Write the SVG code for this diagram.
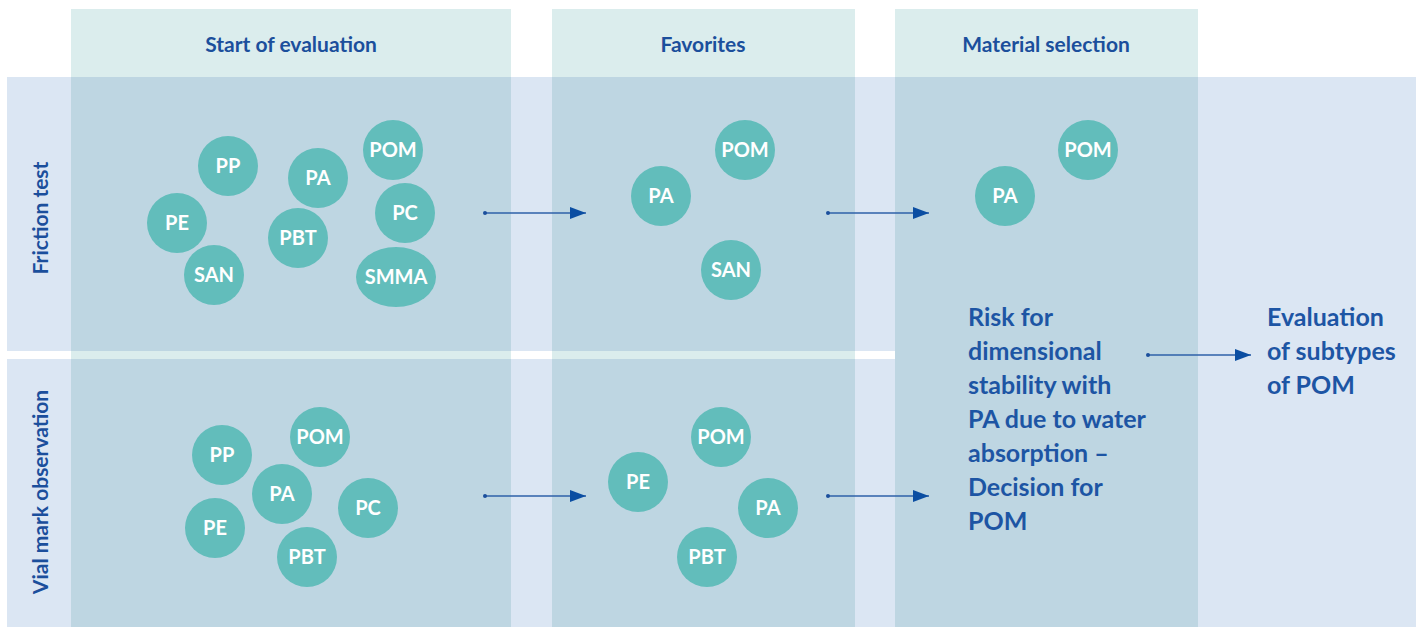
<svg xmlns="http://www.w3.org/2000/svg" width="1416" height="627" viewBox="0 0 1416 627">
<style>
.lb{fill:#dbe6f3}
.dk{fill:#bed6e2}
.hd{fill:#dbeded}
.c{fill:#62bdbb}
.ct{font-family:Lato,"Open Sans",sans-serif;font-weight:bold;font-size:20px;fill:#ffffff;text-anchor:middle}
.ht{font-family:Lato,"Open Sans",sans-serif;font-weight:bold;font-size:21px;fill:#1b4f9c;text-anchor:middle}
.rt{font-family:Lato,"Open Sans",sans-serif;font-weight:bold;font-size:21px;fill:#1b4f9c;text-anchor:middle}
.bt{font-family:Lato,"Open Sans",sans-serif;font-weight:bold;font-size:25px;fill:#1d55a4}
.ln{stroke:#2e60a8;stroke-width:1.5;fill:none;marker-end:url(#ah)}
.dot{fill:#1b4f9c}
</style>
<defs>
<marker id="ah" markerWidth="16" markerHeight="12" refX="16" refY="6" orient="auto" markerUnits="userSpaceOnUse">
<path d="M0,0 L16,6 L0,12 Z" fill="#0b4ea2"/>
</marker>
</defs>
<g id="background">
<rect class="lb" x="7" y="77" width="1409" height="274"/>
<rect class="lb" x="7" y="359" width="1409" height="268"/>
<rect class="lb" x="895" y="351" width="521" height="8"/>
<rect class="hd" x="71" y="9" width="440" height="68"/>
<rect class="dk" x="71" y="77" width="440" height="274"/>
<rect class="hd" x="71" y="351" width="440" height="8"/>
<rect class="dk" x="71" y="359" width="440" height="268"/>
<rect class="hd" x="552" y="9" width="303" height="68"/>
<rect class="dk" x="552" y="77" width="303" height="274"/>
<rect class="hd" x="552" y="351" width="303" height="8"/>
<rect class="dk" x="552" y="359" width="303" height="268"/>
<rect class="hd" x="895" y="9" width="303" height="68"/>
<rect class="dk" x="895" y="77" width="303" height="550"/>
</g>
<g id="headers">
<text class="ht" x="291" y="52">Start of evaluation</text>
<text class="ht" x="703" y="52">Favorites</text>
<text class="ht" x="1046" y="52">Material selection</text>
</g>
<g id="row-labels">
<text class="rt" transform="translate(48,218) rotate(-90)">Friction test</text>
<text class="rt" transform="translate(48,492) rotate(-90)">Vial mark observation</text>
</g>
<g id="start-friction">
<g id="sf-pp"><circle class="c" cx="228" cy="166" r="30"/><text class="ct" x="228" y="173">PP</text></g>
<g id="sf-pa"><circle class="c" cx="318" cy="178" r="30"/><text class="ct" x="318" y="185">PA</text></g>
<g id="sf-pom"><circle class="c" cx="393" cy="150" r="30"/><text class="ct" x="393" y="157">POM</text></g>
<g id="sf-pe"><circle class="c" cx="177" cy="223" r="30"/><text class="ct" x="177" y="230">PE</text></g>
<g id="sf-pc"><circle class="c" cx="405" cy="213" r="30"/><text class="ct" x="405" y="220">PC</text></g>
<g id="sf-pbt"><circle class="c" cx="298" cy="238" r="30"/><text class="ct" x="298" y="245">PBT</text></g>
<g id="sf-san"><circle class="c" cx="214" cy="275" r="30"/><text class="ct" x="214" y="282">SAN</text></g>
<g id="sf-smma"><ellipse class="c" cx="396" cy="277" rx="40" ry="30"/><text class="ct" x="396" y="284">SMMA</text></g>
</g>
<g id="fav-friction">
<g id="ff-pom"><circle class="c" cx="745" cy="150" r="30"/><text class="ct" x="745" y="157">POM</text></g>
<g id="ff-pa"><circle class="c" cx="661" cy="196" r="30"/><text class="ct" x="661" y="203">PA</text></g>
<g id="ff-san"><circle class="c" cx="731" cy="270" r="30"/><text class="ct" x="731" y="277">SAN</text></g>
</g>
<g id="sel-friction">
<g id="mf-pom"><circle class="c" cx="1088" cy="150" r="30"/><text class="ct" x="1088" y="157">POM</text></g>
<g id="mf-pa"><circle class="c" cx="1005" cy="196" r="30"/><text class="ct" x="1005" y="203">PA</text></g>
</g>
<g id="start-vial">
<g id="sv-pp"><circle class="c" cx="222" cy="455" r="30"/><text class="ct" x="222" y="462">PP</text></g>
<g id="sv-pom"><circle class="c" cx="320" cy="437" r="30"/><text class="ct" x="320" y="444">POM</text></g>
<g id="sv-pa"><circle class="c" cx="282" cy="494" r="30"/><text class="ct" x="282" y="501">PA</text></g>
<g id="sv-pc"><circle class="c" cx="368" cy="508" r="30"/><text class="ct" x="368" y="515">PC</text></g>
<g id="sv-pe"><circle class="c" cx="215" cy="528" r="30"/><text class="ct" x="215" y="535">PE</text></g>
<g id="sv-pbt"><circle class="c" cx="307" cy="557" r="30"/><text class="ct" x="307" y="564">PBT</text></g>
</g>
<g id="fav-vial">
<g id="fv-pom"><circle class="c" cx="721" cy="437" r="30"/><text class="ct" x="721" y="444">POM</text></g>
<g id="fv-pe"><circle class="c" cx="638" cy="482" r="30"/><text class="ct" x="638" y="489">PE</text></g>
<g id="fv-pa"><circle class="c" cx="768" cy="508" r="30"/><text class="ct" x="768" y="515">PA</text></g>
<g id="fv-pbt"><circle class="c" cx="707" cy="557" r="30"/><text class="ct" x="707" y="564">PBT</text></g>
</g>
<g id="decision">
<text class="bt" x="968" y="326">Risk for</text>
<text class="bt" x="968" y="360">dimensional</text>
<text class="bt" x="968" y="394">stability with</text>
<text class="bt" x="968" y="428">PA due to water</text>
<text class="bt" x="968" y="462">absorption –</text>
<text class="bt" x="968" y="496">Decision for</text>
<text class="bt" x="968" y="530">POM</text>
</g>
<g id="evaluation">
<text class="bt" x="1267" y="326">Evaluation</text>
<text class="bt" x="1267" y="360">of subtypes</text>
<text class="bt" x="1267" y="394">of POM</text>
</g>
<g id="connectors">
<path class="ln" d="M485,213 H586"/><circle class="dot" cx="485" cy="213" r="2"/>
<path class="ln" d="M828,213 H929"/><circle class="dot" cx="828" cy="213" r="2"/>
<path class="ln" d="M485,496 H586"/><circle class="dot" cx="485" cy="496" r="2"/>
<path class="ln" d="M828,496 H929"/><circle class="dot" cx="828" cy="496" r="2"/>
<path class="ln" d="M1148,355 H1251"/><circle class="dot" cx="1148" cy="355" r="2"/>
</g>
</svg>
